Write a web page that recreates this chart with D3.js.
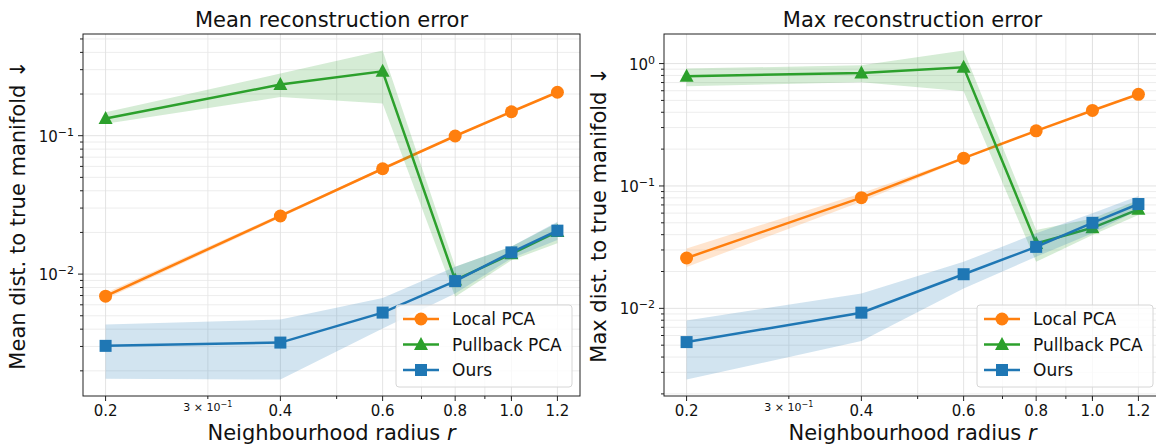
<!DOCTYPE html>
<html>
<head>
<meta charset="utf-8">
<script src="https://cdn.jsdelivr.net/npm/d3@7"></script>
<style>
  body { margin: 0; background: #fff; }
  svg { display: block; font-family: "DejaVu Sans", sans-serif; }
</style>
</head>
<body>
<script>
// x values and tick labels
var radii = [0.2, 0.4, 0.6, 0.8, 1.0, 1.2];
var xTickLabels = ["0.2", "0.4", "0.6", "0.8", "1.0", "1.2"];
var xMinorTicks = [0.3, 0.5, 0.7, 0.9];
var seriesNames = ["Local PCA", "Pullback PCA", "Ours"];

// mean reconstruction error
var meanLocal   = [0.00693, 0.0263, 0.0577, 0.0995, 0.149, 0.206];
var meanLocalLo = [0.0066, 0.0255, 0.0565, 0.0985, 0.1475, 0.204];
var meanLocalHi = [0.0073, 0.0271, 0.059, 0.1005, 0.1505, 0.208];
var meanPull    = [0.133, 0.234, 0.292, 0.00906, 0.0140, 0.0203];
var meanPullLo  = [0.122, 0.19, 0.171, 0.00686, 0.0126, 0.0167];
var meanPullHi  = [0.148, 0.281, 0.413, 0.0113, 0.0158, 0.0235];
var meanOurs    = [0.00303, 0.0032, 0.00527, 0.0089, 0.01435, 0.0206];
var meanOursLo  = [0.00175, 0.00173, 0.00405, 0.00724, 0.013, 0.0176];
var meanOursHi  = [0.00432, 0.0047, 0.00673, 0.0113, 0.0158, 0.0239];

// max reconstruction error
var maxLocal   = [0.0258, 0.0802, 0.1686, 0.282, 0.414, 0.561];
var maxLocalLo = [0.0218, 0.0744, 0.165, 0.279, 0.41, 0.556];
var maxLocalHi = [0.0308, 0.087, 0.172, 0.285, 0.418, 0.566];
var maxPull    = [0.787, 0.838, 0.933, 0.0339, 0.0455, 0.0644];
var maxPullLo  = [0.652, 0.703, 0.593, 0.024, 0.0397, 0.0578];
var maxPullHi  = [0.91, 0.969, 1.28, 0.0436, 0.0543, 0.0768];
var maxOurs    = [0.0053, 0.00922, 0.019, 0.0318, 0.05, 0.0712];
var maxOursLo  = [0.00262, 0.0054, 0.0145, 0.0264, 0.041, 0.0636];
var maxOursHi  = [0.00797, 0.0132, 0.024, 0.041, 0.0598, 0.0828];

var colors = ["#ff7f0e", "#2ca02c", "#1f77b4"];
var shapes = ["circle", "triangle", "square"];

var width = 1156, height = 445;

var svg = d3.select("body").append("svg")
    .attr("width", width)
    .attr("height", height);

// pad a log domain by 5% each side, like matplotlib does
function logPad(lo, hi) {
    var a = Math.log10(lo), b = Math.log10(hi), m = (b - a) * 0.05;
    return [Math.pow(10, a - m), Math.pow(10, b + m)];
}

function supLabel(sel, base, exp, size) {
    sel.append("tspan").text(base);
    sel.append("tspan").text(exp)
        .attr("font-size", size)
        .attr("dy", "-0.55em");
}

function drawMarker(g, shape, x, y, color) {
    if (shape == "circle") {
        g.append("circle").attr("cx", x).attr("cy", y).attr("r", 6.5).attr("fill", color);
    } else if (shape == "square") {
        g.append("rect").attr("x", x - 6).attr("y", y - 6)
            .attr("width", 12).attr("height", 12).attr("fill", color);
    } else {
        g.append("path")
            .attr("d", "M" + x + "," + (y - 7.5) + "L" + (x + 7) + "," + (y + 5.5) + "L" + (x - 7) + "," + (y + 5.5) + "Z")
            .attr("fill", color);
    }
}

function panel(left, right, title, ylabel, series) {
    var top = 34, bottom = 396;
    var g = svg.append("g");

    var x = d3.scaleLog().domain(logPad(0.2, 1.2)).range([left, right]);
    var allLo = d3.min(series, function(s) { return d3.min(s.lo); });
    var allHi = d3.max(series, function(s) { return d3.max(s.hi); });
    var y = d3.scaleLog().domain(logPad(allLo, allHi)).range([bottom, top]);

    var d0 = Math.floor(Math.log10(y.domain()[0]));
    var d1 = Math.ceil(Math.log10(y.domain()[1]));
    var yMajor = [], yMinor = [];
    for (var e = d0; e <= d1; e++) {
        var p = Math.pow(10, e);
        if (p >= y.domain()[0] && p <= y.domain()[1]) yMajor.push(e);
        for (var k = 2; k < 10; k++) {
            var v = k * p;
            if (v >= y.domain()[0] && v <= y.domain()[1]) yMinor.push(v);
        }
    }

    var clipId = "clip" + Math.round(left);
    g.append("clipPath").attr("id", clipId).append("rect")
        .attr("x", left).attr("y", top).attr("width", right - left).attr("height", bottom - top);

    // grid
    var grid = g.append("g");
    grid.selectAll(".ymin").data(yMinor).enter().append("line")
        .attr("x1", left).attr("x2", right)
        .attr("y1", function(d) { return y(d); }).attr("y2", function(d) { return y(d); })
        .attr("stroke", "#ebebeb").attr("stroke-width", 0.9);
    grid.selectAll(".xmin").data(xMinorTicks.concat([1.0])).enter().append("line")
        .attr("y1", top).attr("y2", bottom)
        .attr("x1", function(d) { return x(d); }).attr("x2", function(d) { return x(d); })
        .attr("stroke", "#e6e6e6").attr("stroke-width", 0.9);
    grid.selectAll(".ymaj").data(yMajor).enter().append("line")
        .attr("x1", left).attr("x2", right)
        .attr("y1", function(d) { return y(Math.pow(10, d)); }).attr("y2", function(d) { return y(Math.pow(10, d)); })
        .attr("stroke", "#e0e0e0").attr("stroke-width", 0.9);
    grid.selectAll(".xmaj").data(radii).enter().append("line")
        .attr("y1", top).attr("y2", bottom)
        .attr("x1", function(d) { return x(d); }).attr("x2", function(d) { return x(d); })
        .attr("stroke", "#e0e0e0").attr("stroke-width", 0.9);

    // series
    var plot = g.append("g").attr("clip-path", "url(#" + clipId + ")");
    series.forEach(function(s, i) {
        var pts = radii.map(function(r, j) { return {r: r, v: s.v[j], lo: s.lo[j], hi: s.hi[j]}; });
        plot.append("path").datum(pts)
            .attr("d", d3.area()
                .x(function(d) { return x(d.r); })
                .y0(function(d) { return y(d.lo); })
                .y1(function(d) { return y(d.hi); }))
            .attr("fill", colors[i]).attr("fill-opacity", 0.2);
        plot.append("path").datum(pts)
            .attr("d", d3.line()
                .x(function(d) { return x(d.r); })
                .y(function(d) { return y(d.v); }))
            .attr("fill", "none").attr("stroke", colors[i]).attr("stroke-width", 2.5);
        pts.forEach(function(d) {
            drawMarker(plot, shapes[i], x(d.r), y(d.v), colors[i]);
        });
    });

    // spines
    g.append("rect").attr("x", left).attr("y", top)
        .attr("width", right - left).attr("height", bottom - top)
        .attr("fill", "none").attr("stroke", "#222").attr("stroke-width", 1);

    // x ticks
    var ax = g.append("g");
    radii.forEach(function(r, i) {
        ax.append("line").attr("x1", x(r)).attr("x2", x(r))
            .attr("y1", bottom).attr("y2", bottom + 5).attr("stroke", "#222");
        ax.append("text").attr("x", x(r)).attr("y", bottom + 20)
            .attr("text-anchor", "middle").attr("font-size", 15).attr("fill", "#111")
            .text(xTickLabels[i]);
    });
    xMinorTicks.concat([1.0]).forEach(function(r) {
        ax.append("line").attr("x1", x(r)).attr("x2", x(r))
            .attr("y1", bottom).attr("y2", bottom + 3).attr("stroke", "#222");
    });
    var t3 = ax.append("text").attr("x", x(0.3)).attr("y", bottom + 15)
        .attr("text-anchor", "middle").attr("font-size", 11).attr("fill", "#111");
    supLabel(t3, "3 \u00d7 10", "\u22121", 8);

    // y ticks
    yMajor.forEach(function(e) {
        var yy = y(Math.pow(10, e));
        ax.append("line").attr("x1", left - 5).attr("x2", left)
            .attr("y1", yy).attr("y2", yy).attr("stroke", "#222");
        var t = ax.append("text").attr("x", left - 9).attr("y", yy + 6)
            .attr("text-anchor", "end").attr("font-size", 15).attr("fill", "#111");
        supLabel(t, "10", e == 0 ? "0" : "\u2212" + (-e), 11);
    });
    yMinor.forEach(function(v) {
        ax.append("line").attr("x1", left - 3).attr("x2", left)
            .attr("y1", y(v)).attr("y2", y(v)).attr("stroke", "#222");
    });

    // titles
    g.append("text").attr("x", (left + right) / 2).attr("y", 27)
        .attr("text-anchor", "middle").attr("font-size", 21).attr("fill", "#111").text(title);
    var xl = g.append("text").attr("x", (left + right) / 2).attr("y", 440)
        .attr("text-anchor", "middle").attr("font-size", 21).attr("fill", "#111");
    xl.append("tspan").text("Neighbourhood radius ");
    xl.append("tspan").attr("font-style", "italic").text("r");
    g.append("text")
        .attr("transform", "translate(" + (left - 58) + "," + ((top + bottom) / 2) + ") rotate(-90)")
        .attr("text-anchor", "middle").attr("font-size", 21).attr("fill", "#111")
        .text(ylabel);

    // legend
    var lg = g.append("g").attr("transform", "translate(" + (left + 313) + ",305)");
    lg.append("rect").attr("width", 176).attr("height", 82).attr("rx", 3)
        .attr("fill", "#fff").attr("fill-opacity", 0.8)
        .attr("stroke", "#d6d6d6").attr("stroke-width", 1);
    seriesNames.forEach(function(n, i) {
        var yy = 14 + i * 25.5;
        lg.append("line").attr("x1", 7).attr("x2", 43).attr("y1", yy).attr("y2", yy)
            .attr("stroke", colors[i]).attr("stroke-width", 2.5);
        drawMarker(lg, shapes[i], 25, yy, colors[i]);
        lg.append("text").attr("x", 56).attr("y", yy + 6)
            .attr("font-size", 17).attr("fill", "#111").text(n);
    });
}

panel(83, 580, "Mean reconstruction error", "Mean dist. to true manifold  \u2193", [
    {v: meanLocal, lo: meanLocalLo, hi: meanLocalHi},
    {v: meanPull, lo: meanPullLo, hi: meanPullHi},
    {v: meanOurs, lo: meanOursLo, hi: meanOursHi}
]);

panel(664, 1161, "Max reconstruction error", "Max dist. to true manifold  \u2193", [
    {v: maxLocal, lo: maxLocalLo, hi: maxLocalHi},
    {v: maxPull, lo: maxPullLo, hi: maxPullHi},
    {v: maxOurs, lo: maxOursLo, hi: maxOursHi}
]);
</script>
</body>
</html>
